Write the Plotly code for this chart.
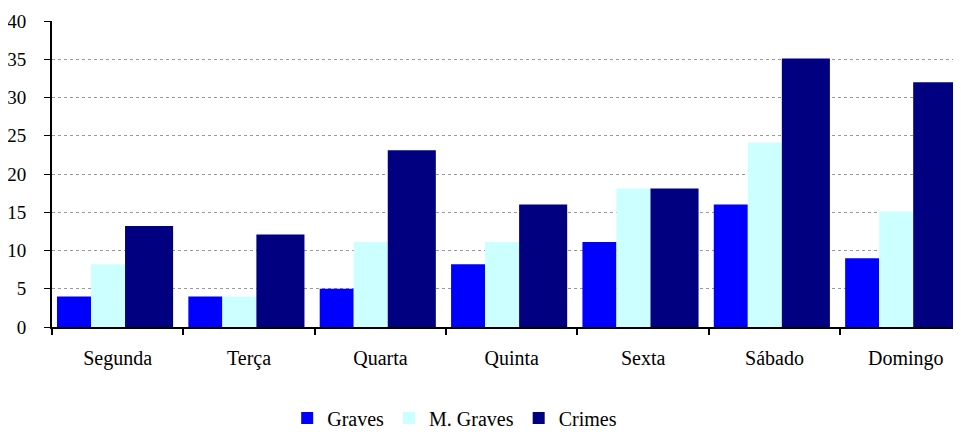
import plotly.graph_objects as go

dias = ["Segunda", "Terça", "Quarta", "Quinta", "Sexta", "Sábado", "Domingo"]
graves = [4.0, 4.0, 5.0, 8.2, 11.1, 16.0, 9.0]
m_graves = [8.2, 4.0, 11.1, 11.1, 18.1, 24.1, 15.1]
crimes = [13.2, 12.1, 23.1, 16.0, 18.1, 35.1, 32.0]
y_ticks = [0, 5, 10, 15, 20, 25, 30, 35, 40]

FONT = "Liberation Serif, Times New Roman, serif"

series = [
    ("Graves", graves, "#0000FF", -0.462, 0.259),
    ("M. Graves", m_graves, "#CCFFFF", -0.203, 0.259),
    ("Crimes", crimes, "#000080", 0.056, 0.366),
]

fig = go.Figure()
for name, vals, color, off, w in series:
    fig.add_trace(go.Bar(
        x=dias, y=vals, name=name,
        marker=dict(color=color, line=dict(width=0)),
        offset=off, width=w,
    ))

# the page adds an 8px body margin, so the figure is drawn 8px smaller/shifted
fig.update_layout(
    width=953, height=424,
    margin=dict(l=44, r=0, t=13, b=105, autoexpand=False),
    barmode="overlay",
    paper_bgcolor="white", plot_bgcolor="white",
    font=dict(family=FONT, size=18, color="black"),
    showlegend=True,
    legend=dict(
        orientation="h", yref="paper",
        x=0.443, y=-0.297, xanchor="center", yanchor="middle",
        font=dict(size=20), itemwidth=30, traceorder="normal",
        tracegroupgap=0, bgcolor="rgba(0,0,0,0)",
    ),
    xaxis=dict(
        range=[-0.5, 6.42], automargin=False,
        showline=True, linecolor="black", linewidth=1.5,
        ticks="outside", tickson="boundaries", ticklen=6, tickcolor="black",
        tickwidth=1.5, showgrid=False, ticklabelstandoff=12,
        tickfont=dict(size=20),
    ),
    yaxis=dict(
        range=[0, 40], tickvals=y_ticks, automargin=False,
        showline=True, linecolor="black", linewidth=2,
        ticks="outside", ticklen=6, tickcolor="black", tickwidth=1,
        showgrid=True, gridcolor="#999999", griddash="dot", gridwidth=1,
        zeroline=False, ticklabelstandoff=14,
        tickfont=dict(size=19),
    ),
)

fig.write_html("out.html")
